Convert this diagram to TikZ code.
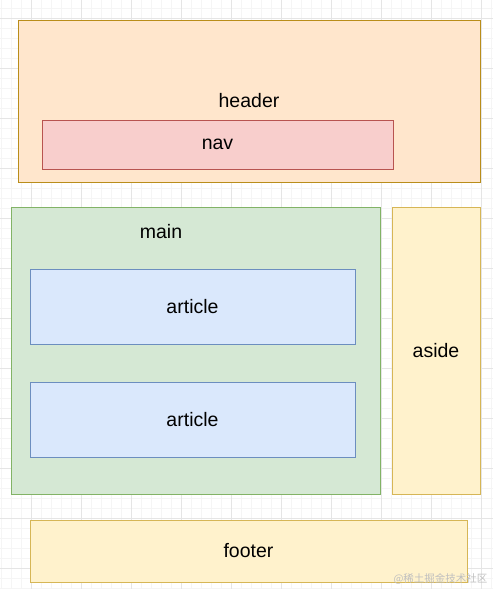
\documentclass[tikz,border=0pt]{standalone}
\usepackage{fontspec}
\setmainfont{Liberation Sans}
\newfontfamily\cjkfont{Noto Sans CJK SC}
\usetikzlibrary{positioning}

\definecolor{hdrfill}{HTML}{FFE6CC}
\definecolor{hdrline}{HTML}{D79B00}
\definecolor{navfill}{HTML}{F8CECC}
\definecolor{navline}{HTML}{B85450}
\definecolor{mainfill}{HTML}{D5E8D4}
\definecolor{mainline}{HTML}{82B366}
\definecolor{artfill}{HTML}{DAE8FC}
\definecolor{artline}{HTML}{6C8EBF}
\definecolor{sidefill}{HTML}{FFF2CC}
\definecolor{sideline}{HTML}{D6B656}

\tikzset{
  block/.style={draw, line width=1pt, inner sep=0pt, font=\fontsize{19.5}{22}\selectfont},
  wmark/.style={font=\cjkfont\fontsize{10.5}{12}\selectfont, text=black!25}
}

\begin{document}
\begin{tikzpicture}[x=1pt, y=-1pt]
  \useasboundingbox (0,0) rectangle (493,589);
  % drawio background grid: minor every 10, major every 50
  \foreach \gx in {1,11,...,491}
    \draw[black!4, line width=0.6pt] (\gx,0) -- (\gx,589);
  \foreach \gy in {8,18,...,588}
    \draw[black!4, line width=0.6pt] (0,\gy) -- (493,\gy);
  \foreach \gx in {31,81,...,481}
    \draw[black!10, line width=0.8pt] (\gx,0) -- (\gx,589);
  \foreach \gy in {18,68,...,568}
    \draw[black!10, line width=0.8pt] (0,\gy) -- (493,\gy);

  % page regions
  \node[block, fill=hdrfill, draw=hdrline!80!black!70!sideline, minimum width=462, minimum height=162]
    (header) at (249,101) {header};
  \node[block, fill=navfill, draw=navline, minimum width=351, minimum height=49]
    (nav) at (217.5,144.5) {nav};
  \node[block, fill=mainfill, draw=mainline, minimum width=369, minimum height=287]
    (main) at (195.5,350.5) {};
  \node[font=\fontsize{19.5}{22}\selectfont] (mainlbl) at (161,232) {main};
  \node[block, fill=artfill, draw=artline, minimum width=325, minimum height=75]
    (art1) at (192.5,306.5) {article};
  \node[block, fill=artfill, draw=artline, minimum width=325, minimum height=75]
    (art2) at (192.5,419.5) {article};
  \node[block, fill=sidefill, draw=sideline, minimum width=88, minimum height=287]
    (aside) at (436,350.5) {aside};
  \node[block, fill=sidefill, draw=sideline, minimum width=437, minimum height=62]
    (footer) at (248.5,551) {footer};

  % watermark
  \node[wmark, anchor=east] (wm) at (491,579) {@稀土掘金技术社区};
\end{tikzpicture}
\end{document}
